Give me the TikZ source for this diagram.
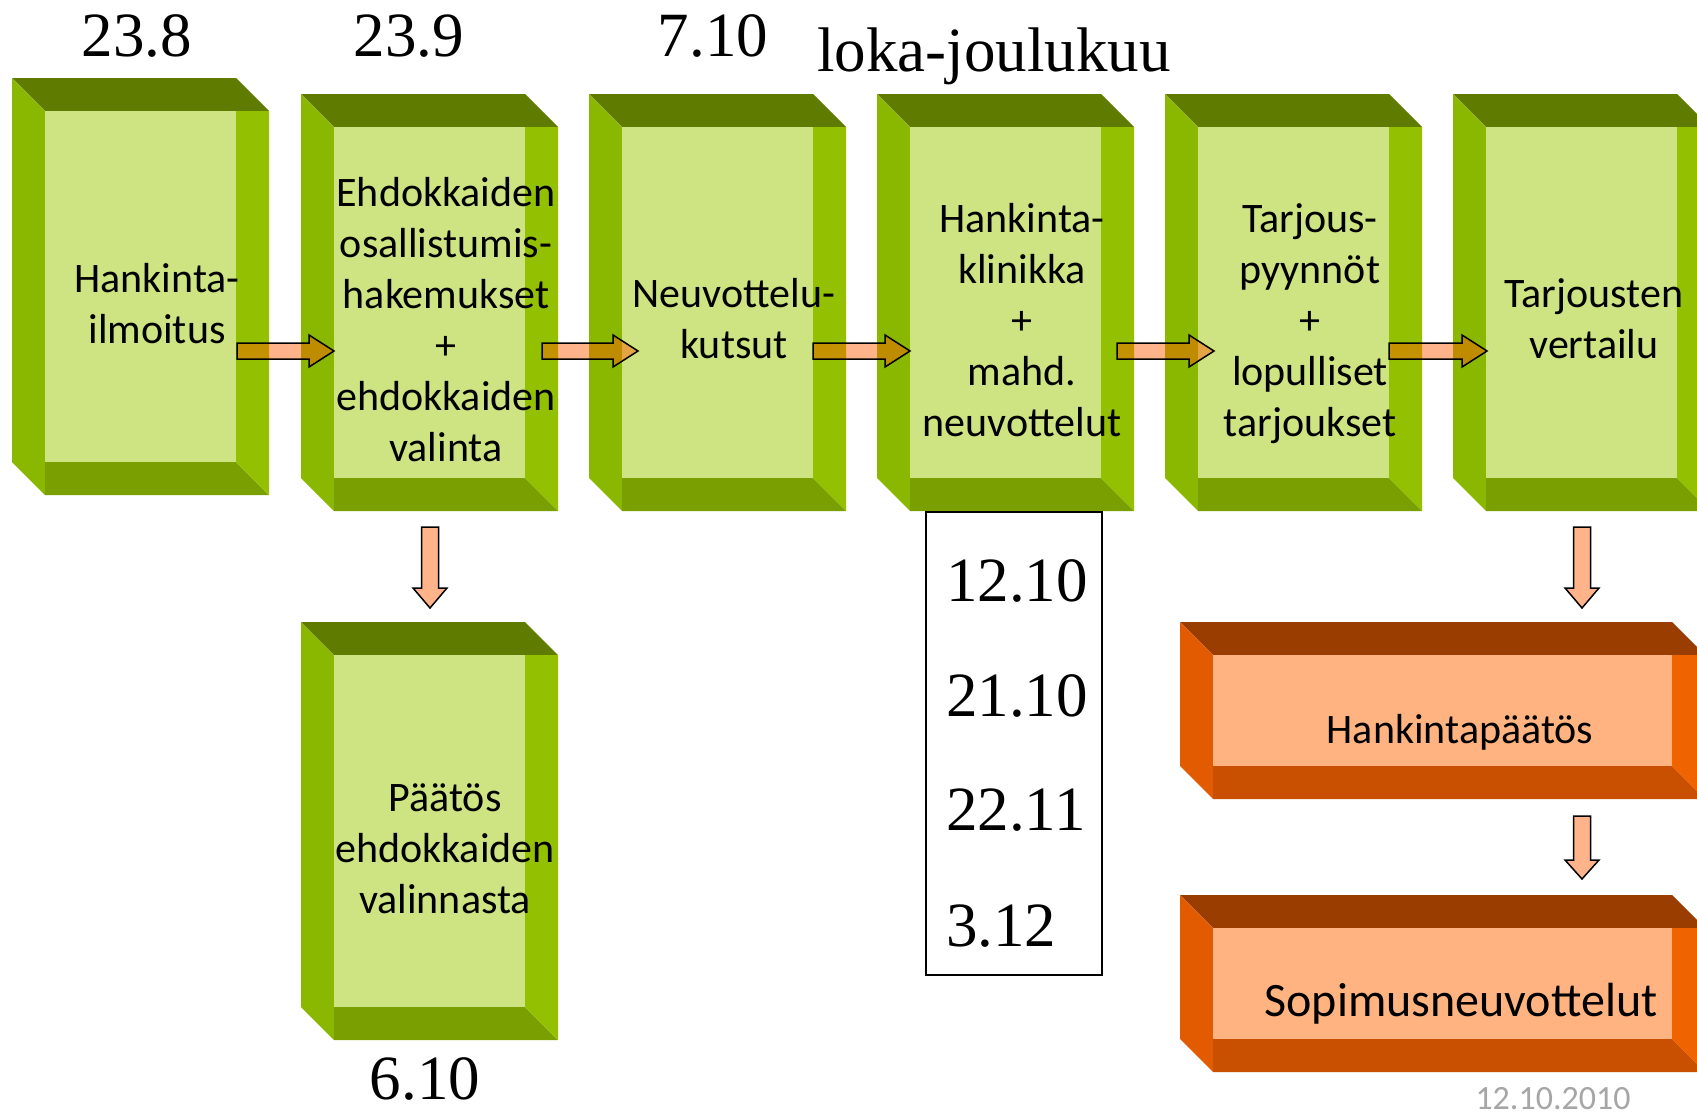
\documentclass[tikz,border=0pt]{standalone}
\usepackage{fontspec}
\setmainfont{Liberation Serif}
\newfontfamily\carlito{Carlito}
\usetikzlibrary{calc,fit}

\definecolor{gface}{HTML}{CEE482}
\definecolor{gtop}{HTML}{5F7B00}
\definecolor{gleft}{HTML}{8AB700}
\definecolor{gright}{HTML}{93C000}
\definecolor{gbot}{HTML}{79A000}
\definecolor{oface}{HTML}{FFB380}
\definecolor{otop}{HTML}{993D00}
\definecolor{oleft}{HTML}{E35B00}
\definecolor{oright}{HTML}{F06400}
\definecolor{obot}{HTML}{C85000}
\definecolor{arrowfill}{HTML}{FF5A00}
\definecolor{stampgray}{HTML}{A6A6A6}

% #1 name, #2 x, #3 y, #4 w, #5 h, #6 colour prefix
\newcommand{\slab}[6]{%
  \fill[#6top] (#2,#3) -- (#2+#4-33,#3) -- (#2+#4,#3+33) -- (#2+33,#3+33) -- cycle;
  \fill[#6left] (#2,#3) -- (#2+33,#3+33) -- (#2+33,#3+#5) -- (#2,#3+#5-33) -- cycle;
  \fill[#6bot] (#2+33,#3+#5-33) -- (#2+#4-33,#3+#5-33) -- (#2+#4,#3+#5) -- (#2+33,#3+#5) -- cycle;
  \fill[#6right] (#2+#4-33,#3+33) -- (#2+#4,#3+33) -- (#2+#4,#3+#5) -- (#2+#4-33,#3+#5-33) -- cycle;
  \fill[#6face] (#2+33,#3+33) rectangle (#2+#4-33,#3+#5-33);
  \node[inner sep=0pt, fit={(#2+33,#3+33) (#2+#4-33,#3+#5-33)}] (#1) {};
}
\newcommand{\hblock}[2]{%
  \draw[barrow] ($(#1)+(0,-8)$) -- ($(#2)+(-25,-8)$) -- ($(#2)+(-25,-16)$) -- (#2)
    -- ($(#2)+(-25,16)$) -- ($(#2)+(-25,8)$) -- ($(#1)+(0,8)$) -- cycle;
}
\newcommand{\vblock}[3]{%
  \draw[barrow] ($(#1)+(-8.5,0)$) -- ($(#2)+(-8.5,-#3)$) -- ($(#2)+(-17,-#3)$) -- (#2)
    -- ($(#2)+(17,-#3)$) -- ($(#2)+(8.5,-#3)$) -- ($(#1)+(8.5,0)$) -- cycle;
}

\tikzset{
  barrow/.style={fill=arrowfill, fill opacity=0.46, draw=black, line width=1.5pt, line join=miter},
  btext/.style={font=\carlito\fontsize{42}{51}\selectfont, align=center, text width=480pt, inner sep=0pt, anchor=base},
  num/.style={font=\fontsize{63}{70}\selectfont, inner sep=0pt, anchor=base},
}

\begin{document}
\begin{tikzpicture}[x=1pt,y=-1pt]
\useasboundingbox (0,0) rectangle (1697,1116);
\fill[white] (0,0) rectangle (1697,1116);
\begin{scope}
\clip (0,0) rectangle (1697,1116);

% boxes
\slab{b1}{12}{78}{257}{417}{g}
\slab{b2}{301}{94}{257}{417}{g}
\slab{b3}{589}{94}{257}{417}{g}
\slab{b4}{877}{94}{257}{417}{g}
\slab{b5}{1165}{94}{257}{417}{g}
\slab{b6}{1453}{94}{257}{417}{g}
\slab{b7}{301}{622}{257}{418}{g}
\slab{o1}{1180}{622}{525}{177}{o}
\slab{o2}{1180}{895}{525}{177}{o}

% box texts
\node[btext] (t1) at (157,292) {Hankinta-\\ilmoitus};
\node[btext] (t2) at (446,206) {Ehdokkaiden\\osallistumis-\\hakemukset\\+\\ehdokkaiden\\valinta};
\node[btext] (t3) at (734,307) {Neuvottelu-\\kutsut};
\node[btext] (t4) at (1022,232) {Hankinta-\\klinikka\\+\\mahd.\\neuvottelut};
\node[btext] (t5) at (1310,232) {Tarjous-\\pyynnöt\\+\\lopulliset\\tarjoukset};
\node[btext] (t6) at (1594,307) {Tarjousten\\vertailu};
\node[btext] (t7) at (445,811) {Päätös\\ehdokkaiden\\valinnasta};
\node[btext] (t8) at (1460,743) {Hankintapäätös};
\node[btext, font=\carlito\fontsize{48}{56}\selectfont] (t9) at (1461,1016) {Sopimusneuvottelut};

% top / bottom dates
\node[num] (l1) at (137,57) {23.8};
\node[num] (l2) at (409,57) {23.9};
\node[num] (l3) at (713,57) {7.10};
\node[num, anchor=base west] (l4) at (817,71) {loka-joulukuu};
\node[num] (l5) at (425,1099) {6.10};

% date box
\node[draw=black, line width=1.5pt, minimum width=176pt, minimum height=463pt, inner sep=0pt] (dates) at (1014,743.5) {};
\node[num, anchor=base west] (d1) at (946,601) {12.10};
\node[num, anchor=base west] (d2) at (946,716) {21.10};
\node[num, anchor=base west] (d3) at (946,830) {22.11};
\node[num, anchor=base west] (d4) at (946,946) {3.12};

% stamp
\node[font=\carlito\fontsize{34}{40}\selectfont, text=stampgray, inner sep=0pt, anchor=base] (stamp) at (1553,1109) {12.10.2010};

% arrows
\coordinate (h1a) at (237,351); \coordinate (h1b) at (334,351);
\coordinate (h2a) at (542,351); \coordinate (h2b) at (638,351);
\coordinate (h3a) at (813,351); \coordinate (h3b) at (910,351);
\coordinate (h4a) at (1117,351); \coordinate (h4b) at (1214,351);
\coordinate (h5a) at (1389,351); \coordinate (h5b) at (1487,351);
\hblock{h1a}{h1b}
\hblock{h2a}{h2b}
\hblock{h3a}{h3b}
\hblock{h4a}{h4b}
\hblock{h5a}{h5b}
\coordinate (v1a) at (430,527); \coordinate (v1b) at (430,608);
\coordinate (v2a) at (1582,527); \coordinate (v2b) at (1582,608);
\coordinate (v3a) at (1582,816); \coordinate (v3b) at (1582,879);
\vblock{v1a}{v1b}{20}
\vblock{v2a}{v2b}{20}
\vblock{v3a}{v3b}{19}
\end{scope}
\end{tikzpicture}
\end{document}
